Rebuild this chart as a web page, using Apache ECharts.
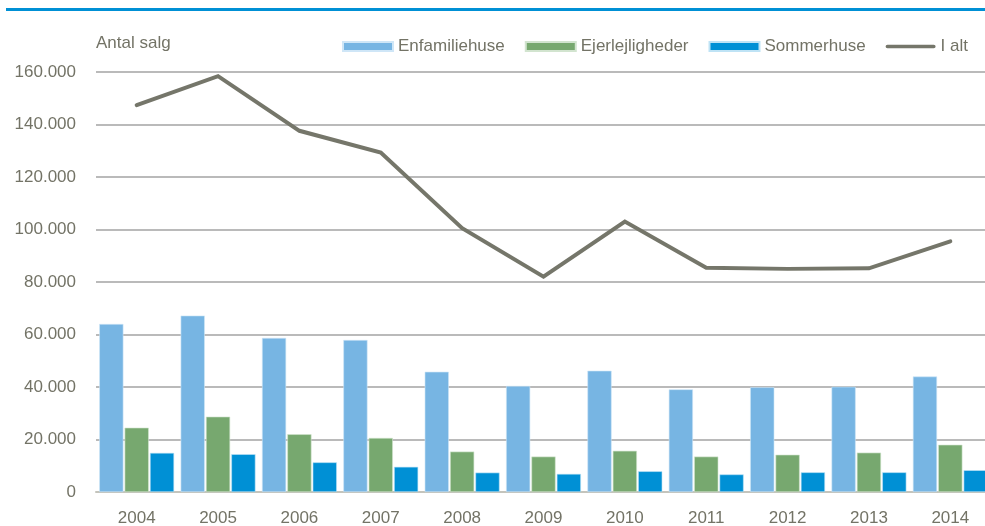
<!DOCTYPE html>
<html>
<head>
<meta charset="utf-8">
<script src="https://cdn.jsdelivr.net/npm/echarts@6/dist/echarts.min.js"></script>
<style>
html,body{margin:0;padding:0;background:#fff;}
#chart{width:985px;height:526px;}
</style>
</head>
<body>
<div id="chart"></div>
<script>
var years = ['2004','2005','2006','2007','2008','2009','2010','2011','2012','2013','2014'];
var enfamiliehuse = [64000, 67200, 58700, 57900, 45800, 40400, 46200, 39100, 39900, 40100, 44000];
var ejerlejligheder = [24500, 28700, 22000, 20600, 15400, 13500, 15700, 13500, 14200, 15000, 18000];
var sommerhuse = [14900, 14400, 11300, 9600, 7400, 6900, 7900, 6700, 7500, 7500, 8300];
var iAlt = [147400, 158400, 137600, 129300, 100500, 82000, 103000, 85400, 85000, 85200, 95500];
var yTicks = { min: 0, max: 160000, interval: 20000 };

var FONT = "'Liberation Sans', Arial, sans-serif";
var FS = 17;
var TXT = '#737366';

function fmt(v) {
  return String(v).replace(/\B(?=(\d{3})+(?!\d))/g, '.');
}

var chart = echarts.init(document.getElementById('chart'), null, { renderer: 'canvas' });

chart.setOption({
  animation: false,
  backgroundColor: '#ffffff',
  graphic: [{
    type: 'line',
    shape: { x1: 6, y1: 9.5, x2: 985, y2: 9.5 },
    style: { stroke: '#0090d5', lineWidth: 3 }
  }],
  legend: {
    left: 337,
    top: 33,
    itemWidth: 50,
    itemHeight: 9,
    itemGap: 20,
    textStyle: { color: TXT, fontFamily: FONT, fontSize: FS },
    data: [
      { name: 'Enfamiliehuse', icon: 'rect' },
      { name: 'Ejerlejligheder', icon: 'rect' },
      { name: 'Sommerhuse', icon: 'rect' },
      { name: 'I alt', icon: 'path://M2,0 L53,0 A2,2 0 0 1 53,4 L2,4 A2,2 0 0 1 2,0 Z',
        itemStyle: { color: '#75766a' } }
    ]
  },
  grid: { left: 96, right: -6, top: 72, bottom: 34, containLabel: false, outerBoundsMode: 'none' },
  xAxis: {
    type: 'category',
    data: years,
    axisTick: { show: false },
    axisLine: { lineStyle: { color: '#c4c4bc', width: 2 } },
    axisLabel: { color: TXT, fontFamily: FONT, fontSize: FS, margin: 18 }
  },
  yAxis: {
    type: 'value',
    min: yTicks.min,
    max: yTicks.max,
    interval: yTicks.interval,
    name: 'Antal salg',
    nameLocation: 'end',
    nameGap: 20,
    nameTextStyle: { color: TXT, fontFamily: FONT, fontSize: FS, align: 'left' },
    axisLine: { show: false },
    axisTick: { show: false },
    axisLabel: { color: TXT, fontFamily: FONT, fontSize: FS, margin: 20, formatter: fmt },
    splitLine: { lineStyle: { color: '#a3a3a3', width: 1.5 } }
  },
  series: [
    { name: 'Enfamiliehuse', type: 'bar', data: enfamiliehuse, barGap: '5%', barCategoryGap: '8%',
      itemStyle: { color: '#77b5e3', borderColor: '#cfe6f7', borderWidth: 0.6 } },
    { name: 'Ejerlejligheder', type: 'bar', data: ejerlejligheder,
      itemStyle: { color: '#77a86f', borderColor: '#d2e4cf', borderWidth: 0.6 } },
    { name: 'Sommerhuse', type: 'bar', data: sommerhuse,
      itemStyle: { color: '#0090d5', borderColor: '#bfe3f5', borderWidth: 0.6 } },
    { name: 'I alt', type: 'line', data: iAlt, symbol: 'none', showSymbol: false,
      itemStyle: { color: '#75766a' },
      lineStyle: { color: '#75766a', width: 4, cap: 'round', join: 'miter' } }
  ]
});
</script>
</body>
</html>
